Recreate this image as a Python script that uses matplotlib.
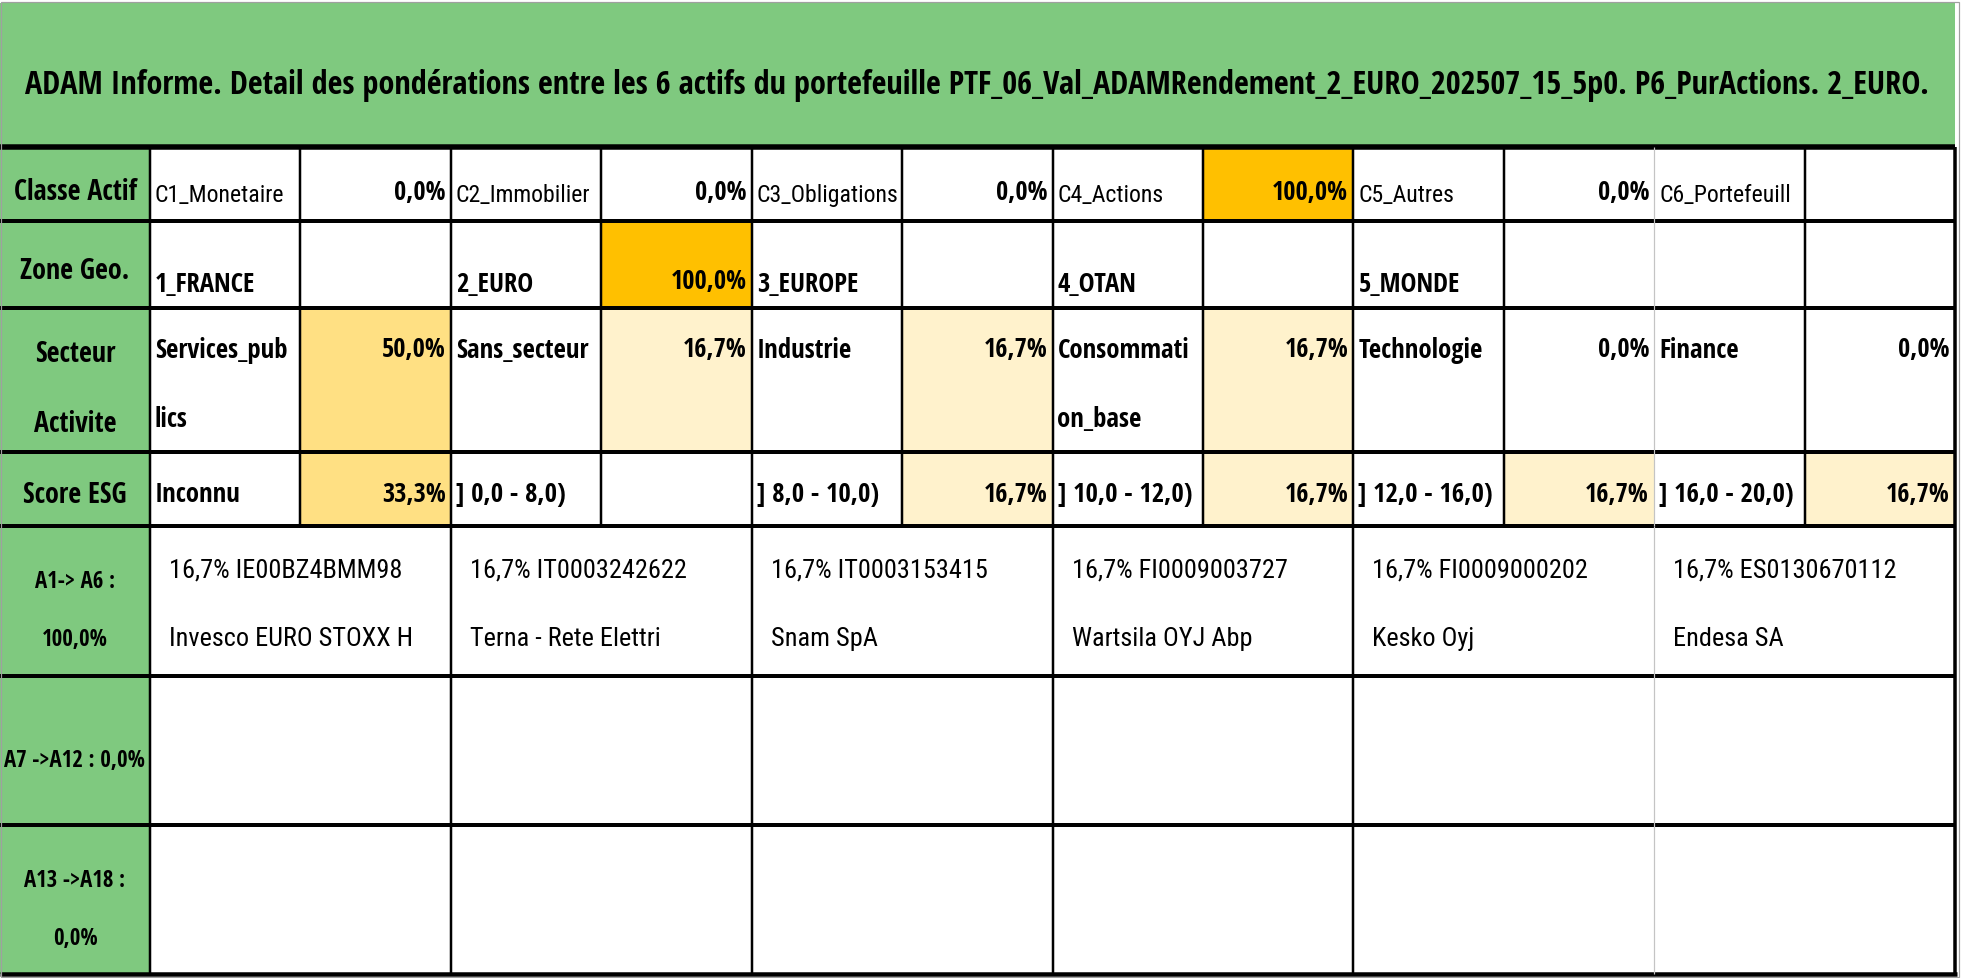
import matplotlib.pyplot as plt
from matplotlib import font_manager
from matplotlib.font_manager import FontProperties
from matplotlib.patches import Rectangle
from matplotlib.textpath import TextPath

title = ("ADAM Informe. Detail des pondérations entre les 6 actifs du portefeuille "
         "PTF_06_Val_ADAMRendement_2_EURO_202507_15_5p0. P6_PurActions. 2_EURO.")

row_labels = ["Classe Actif", "Zone Geo.", "Secteur\nActivite", "Score ESG",
              "A1-> A6 :\n100,0%", "A7 ->A12 : 0,0%", "A13 ->A18 :\n0,0%"]

classe_names = ["C1_Monetaire", "C2_Immobilier", "C3_Obligations", "C4_Actions",
                "C5_Autres", "C6_Portefeuill"]
classe_pct = [0.0, 0.0, 0.0, 100.0, 0.0, None]

zone_names = ["1_FRANCE", "2_EURO", "3_EUROPE", "4_OTAN", "5_MONDE", ""]
zone_pct = [None, 100.0, None, None, None, None]

secteur_names = ["Services_pub\nlics", "Sans_secteur", "Industrie",
                 "Consommati\non_base", "Technologie", "Finance"]
secteur_pct = [50.0, 16.7, 16.7, 16.7, 0.0, 0.0]

esg_names = ["Inconnu", "] 0,0 - 8,0)", "] 8,0 - 10,0)", "] 10,0 - 12,0)",
             "] 12,0 - 16,0)", "] 16,0 - 20,0)"]
esg_pct = [33.3, None, 16.7, 16.7, 16.7, 16.7]

actif_pct = [16.7, 16.7, 16.7, 16.7, 16.7, 16.7]
actif_isin = ["IE00BZ4BMM98", "IT0003242622", "IT0003153415",
              "FI0009003727", "FI0009000202", "ES0130670112"]
actif_names = ["Invesco EURO STOXX H", "Terna - Rete Elettri", "Snam SpA",
               "Wartsila OYJ Abp", "Kesko Oyj", "Endesa SA"]

# layout, in pixels of the 1961x979 sheet
W, H, DPI = 1961, 979, 100
LABEL_W = 150
RIGHT = 1955
ROW_EDGES = [4, 148, 222, 309, 453, 527, 677, 826, 975]
COL_W = (RIGHT - LABEL_W) / 12

GREEN = "#7FC97F"
BORDER_GREY = "#C4C4C4"

# the sheet uses a narrow sans face: take the narrowest installed sans,
# separately for bold and regular so each really gets that weight
SANS = {"Liberation Sans", "Liberation Sans Narrow", "DejaVu Sans", "Noto Sans",
        "Roboto", "Roboto Condensed", "Open Sans", "Open Sans Condensed", "Lato", "Inter"}
ENTRY = {f.fname: f for f in font_manager.fontManager.ttflist}


def numeric_weight(w):
    return w if isinstance(w, int) else font_manager.weight_dict.get(w, 400)


def props(name, stretch, weight):
    return FontProperties(family=name, stretch=stretch, weight=weight)


def width_per_cap(fp):
    w = TextPath((0, 0), "1_FRANCE Classe Actif 16,7%", size=100, prop=fp).get_extents().width
    cap = TextPath((0, 0), "H", size=100, prop=fp).get_extents().height
    return w / cap


def pick_font(weight):
    best, best_score = ("DejaVu Sans", "normal"), None
    for name, stretch in sorted({(f.name, f.stretch) for f in ENTRY.values() if f.name in SANS}):
        fp = props(name, stretch, weight)
        entry = ENTRY.get(font_manager.findfont(fp, fallback_to_default=False))
        if entry is None or entry.name != name:
            continue
        real = numeric_weight(entry.weight)
        if (weight == "bold") != (real >= 600) or real < 350:
            continue
        score = width_per_cap(fp)
        if best_score is None or score < best_score:
            best, best_score = (name, stretch), score
    return best


FONT = {"bold": pick_font("bold"), "normal": pick_font("normal")}


def fp_for(weight):
    name, stretch = FONT[weight]
    return props(name, stretch, weight)


def cap_ratio(weight):
    return TextPath((0, 0), "H", size=100, prop=fp_for(weight)).get_extents().height / 100


CAP = {w: cap_ratio(w) for w in FONT}


def fit_em(sample, width, cap, weight):
    w = TextPath((0, 0), sample, size=100, prop=fp_for(weight)).get_extents().width / 100
    return min(cap / CAP[weight], width / w)


# text classes: (weight, em in px) fitted to widths measured on the sheet
STYLE = {
    "title": ("bold", fit_em(title, 1903, 30, "bold")),
    "label": ("bold", fit_em("Classe Actif", 123, 30, "bold")),
    "label_small": ("bold", fit_em("A7 ->A12 : 0,0%", 140, 23, "bold")),
    "name1": ("normal", fit_em("C1_Monetaire", 127, 24, "normal")),
    "name": ("bold", fit_em("Consommati", 129, 30, "bold")),
    "pct": ("bold", fit_em("100,0%", 74, 30, "bold")),
    "actif": ("normal", fit_em("16,7% IT0003153415", 213, 30, "normal")),
}


def fmt(v):
    return f"{v:.1f}".replace(".", ",") + "%"


def pct_colour(v):
    if v is None or v == 0:
        return "white"
    if v >= 100:
        return "#FFC000"
    if v >= 30:
        return "#FFE083"
    return "#FFF2CC"


def col_left(i):
    return LABEL_W + i * COL_W


fig = plt.figure(figsize=(W / DPI, H / DPI), dpi=DPI)
ax = fig.add_axes([0, 0, 1, 1])
ax.set_xlim(0, W)
ax.set_ylim(H, 0)
ax.axis("off")


def fill(x0, y0, x1, y1, color):
    ax.add_patch(Rectangle((x0, y0), x1 - x0, y1 - y0, facecolor=color,
                           edgecolor="none", zorder=1))


def put(x, ymid, s, style, ha="left", step=69):
    # ymid: vertical middle of the capitals of the first line
    weight, size = STYLE[style]
    fp = fp_for(weight)
    fp.set_size(size * 72 / DPI)
    for k, line in enumerate(s.split("\n")):
        ax.text(x, ymid + k * step + size * CAP[weight] / 2, line, fontproperties=fp,
                ha=ha, va="baseline", zorder=5)


# title band
fill(0, ROW_EDGES[0], RIGHT, ROW_EDGES[1], GREEN)
put(977, 82, title, "title", ha="center")

# label column
label_mid = [190, 269, 352, 493, 580, 759, 879]
label_step = [0, 0, 70, 0, 58, 0, 58]
for r, lab in enumerate(row_labels):
    fill(0, ROW_EDGES[r + 1], LABEL_W, ROW_EDGES[r + 2], GREEN)
    put(LABEL_W / 2, label_mid[r], lab, "label" if r < 4 else "label_small",
        ha="center", step=label_step[r])

# upper block: name / weight pairs
upper = [(classe_names, classe_pct), (zone_names, zone_pct),
         (secteur_names, secteur_pct), (esg_names, esg_pct)]
name_style = ["name1", "name", "name", "name"]
name_mid = [194, 282, 348, 492]
pct_mid = [191, 280, 348, 493]

for r, (names, pcts) in enumerate(upper):
    y0, y1 = ROW_EDGES[r + 1], ROW_EDGES[r + 2]
    for j in range(6):
        nx0, px0 = col_left(2 * j), col_left(2 * j + 1)
        px1 = col_left(2 * j + 2)
        fill(nx0, y0, px0, y1, "white")
        put(nx0 + 5, name_mid[r], names[j], name_style[r])
        fill(px0, y0, px1, y1, pct_colour(pcts[j]))
        if pcts[j] is not None:
            put(px1 - 5, pct_mid[r], fmt(pcts[j]), "pct", ha="right")

# lower block: the six assets, then two empty groups
for j in range(6):
    x0 = col_left(2 * j)
    put(x0 + 19, 568, f"{fmt(actif_pct[j])} {actif_isin[j]}", "actif")
    put(x0 + 19, 637, actif_names[j], "actif")

# grid lines
px = 72 / DPI
ax.hlines(ROW_EDGES[1], 0, RIGHT, color="black", lw=5.5 * px, zorder=3)
ax.hlines(ROW_EDGES[2:-1], 0, RIGHT, color="black", lw=4 * px, zorder=3)
ax.hlines(ROW_EDGES[-1], 0, RIGHT + 2, color="black", lw=4.5 * px, zorder=3)
for i in range(12):
    x = col_left(i)
    colour, lw = ("black", 2.5) if i != 10 else (BORDER_GREY, 1.2)
    ax.vlines(x, ROW_EDGES[1], ROW_EDGES[5], color=colour, lw=lw * px, zorder=3)
    if i % 2 == 0:
        ax.vlines(x, ROW_EDGES[5], ROW_EDGES[8], color=colour, lw=lw * px, zorder=3)
ax.vlines(RIGHT, ROW_EDGES[1], ROW_EDGES[-1], color="black", lw=3.5 * px, zorder=3)

# outer sheet frame
ax.add_patch(Rectangle((0.5, 2.5), W - 3, H - 3.5, facecolor="none",
                       edgecolor="#A0A0A0", lw=1.2 * px, zorder=4))

fig.savefig("out.png", dpi=DPI, facecolor="white")
